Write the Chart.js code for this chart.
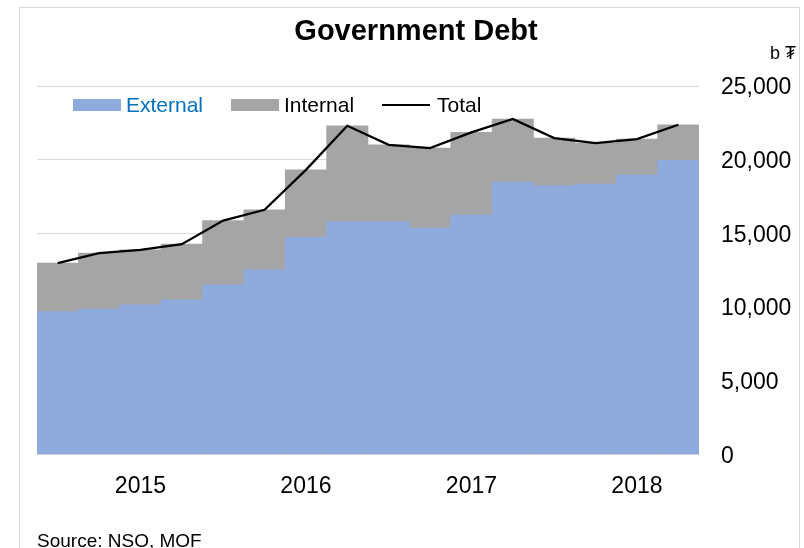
<!DOCTYPE html>
<html>
<head>
<meta charset="utf-8">
<script src="https://cdn.jsdelivr.net/npm/chart.js@4/dist/chart.umd.min.js"></script>
<style>
  body { margin: 0; background: #fff; font-family: 'Liberation Sans', Arial, sans-serif; }
  #wrap { position: relative; width: 804px; height: 548px; overflow: hidden; }
  #frame { position: absolute; left: 19px; top: 7px; width: 779px; height: 580px; border: 1px solid #d9d9d9; }
  canvas { position: absolute; left: 0; top: 0; }
  .txt { position: absolute; white-space: nowrap; line-height: 1; }
  #title { left: 216px; width: 400px; text-align: center; top: 16px; font-size: 29px; font-weight: bold; color: #000; }
  #unit { left: 770px; top: 44px; font-size: 18px; color: #000; font-family: 'Liberation Sans', 'DejaVu Sans', sans-serif; }
  #source { left: 37px; top: 531px; font-size: 19px; color: #000; }
  .sw { position: absolute; width: 48px; height: 12px; top: 99px; }
  .leg { top: 94px; font-size: 21px; }
</style>
</head>
<body>
<div id="wrap">
  <div id="frame"></div>
  <canvas id="chart1" width="804" height="548"></canvas>
  <div class="txt" id="title">Government Debt</div>
  <div class="txt" id="unit">b ₮</div>
  <div class="sw" style="left:73px;background:#8FAADC"></div>
  <div class="txt leg" style="left:126px;color:#0070C0">External</div>
  <div class="sw" style="left:231px;background:#A5A5A5"></div>
  <div class="txt leg" style="left:284px;color:#000">Internal</div>
  <div class="sw" style="left:382px;height:2px;top:104px;background:#000"></div>
  <div class="txt leg" style="left:437px;color:#000">Total</div>
  <div class="txt" id="source">Source: NSO, MOF</div>
</div>
<script>
// quarterly figures, billion tugrik
const quarters = ['2014Q4',
  '2015Q1', '2015Q2', '2015Q3', '2015Q4',
  '2016Q1', '2016Q2', '2016Q3', '2016Q4',
  '2017Q1', '2017Q2', '2017Q3', '2017Q4',
  '2018Q1', '2018Q2', '2018Q3'];
const external = [9690, 9860, 10150, 10490, 11510, 12530, 14730, 15800,
  15800, 15360, 16260, 18480, 18230, 18340, 18970, 19950];
const internal = [3290, 3800, 3730, 3780, 4360, 4070, 4580, 6500,
  5210, 5430, 5590, 4280, 3240, 2790, 2430, 2420];
const total = [12980, 13660, 13880, 14270, 15870, 16600, 19310, 22300,
  21010, 20790, 21850, 22760, 21470, 21130, 21400, 22370];
const yearTicks = ['2015', '2016', '2017', '2018'];

const font = "'Liberation Sans', Arial, sans-serif";

new Chart(document.getElementById('chart1'), {
  type: 'bar',
  data: {
    labels: quarters,
    datasets: [
      {
        type: 'line',
        label: 'Total',
        data: total,
        borderColor: '#000',
        borderWidth: 2.25,
        pointRadius: 0,
        tension: 0,
        fill: false,
        stack: 'total',
        order: 0,
      },
      {
        label: 'External',
        data: external,
        backgroundColor: '#8FAADC',
        stack: 'debt',
        order: 1,
      },
      {
        label: 'Internal',
        data: internal,
        backgroundColor: '#A5A5A5',
        stack: 'debt',
        order: 1,
      },
    ],
  },
  options: {
    responsive: false,
    animation: false,
    barPercentage: 1,
    categoryPercentage: 1,
    layout: { padding: { left: 37, top: 86, right: 0, bottom: 0 } },
    plugins: {
      legend: { display: false },
      tooltip: { enabled: false },
    },
    scales: {
      x: {
        stacked: true,
        grid: { display: false, drawTicks: false },
        border: { display: true, color: '#d9d9d9' },
        ticks: {
          autoSkip: false,
          maxRotation: 0,
          padding: 18,
          color: '#000',
          font: { family: font, size: 23 },
          callback: (v, i) => {
            const y = quarters[i].slice(0, 4);
            return quarters[i].endsWith('Q2') && yearTicks.includes(y) ? y : '';
          },
        },
        afterFit: (s) => { s.height = 93.5; },
      },
      y: {
        stacked: true,
        position: 'right',
        min: 0,
        max: 25000,
        grid: { color: '#d9d9d9', drawTicks: false },
        border: { display: false },
        ticks: {
          stepSize: 5000,
          padding: 22,
          labelOffset: 2,
          color: '#000',
          font: { family: font, size: 23 },
          callback: (v) => v.toLocaleString('en-US'),
        },
        afterFit: (s) => { s.width = 105; },
      },
    },
  },
});
</script>
</body>
</html>
